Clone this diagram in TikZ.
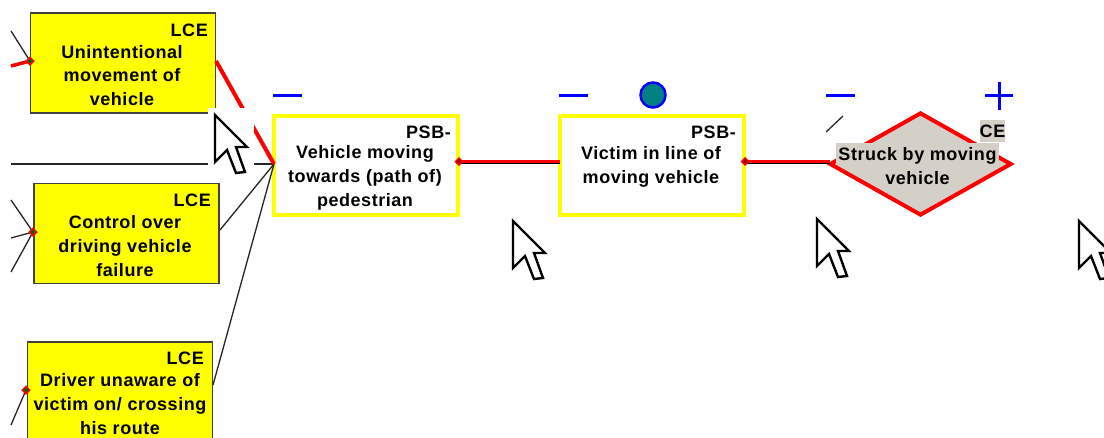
\documentclass[tikz,border=0pt]{standalone}
\usepackage{fontspec}
\setmainfont[LetterSpace=3]{Liberation Sans}
\usetikzlibrary{shapes.geometric,calc}
\definecolor{teal2}{RGB}{0,128,128}
\definecolor{ceg}{RGB}{212,208,200}
\definecolor{bl}{RGB}{0,0,255}
\definecolor{yel}{RGB}{255,255,0}
\definecolor{rd}{RGB}{255,0,0}
\tikzset{
 lce/.style={draw=black!75,fill=yel,line width=1.4pt,minimum width=185pt,minimum height=100pt,inner sep=0pt},
 psb/.style={draw=yel,fill=white,line width=4pt,minimum width=184pt,minimum height=99pt,inner sep=0pt},
 body/.style={font=\fontsize{18}{23.8}\selectfont\bfseries,align=center,inner sep=0pt,text=black},
 tag/.style={font=\fontsize{18}{20}\selectfont\bfseries,anchor=east,inner sep=0pt,text=black},
 thin line/.style={draw=black!85,line width=1.3pt},
 red line/.style={draw=rd,line width=4pt},
 joint/.style={diamond,draw=rd,fill=green!40!black,line width=1.5pt,minimum size=8pt,inner sep=0pt},
 redjoint/.style={diamond,draw=rd,fill=rd!70!black,line width=1pt,minimum size=8pt,inner sep=0pt},
 sign/.style={draw=bl,line width=3pt},
 cursor/.style={draw=black,fill=white,line width=2.4pt,line join=miter},
}
\newcommand{\mycursor}[2]{%
 \draw[cursor,shift={(#1,#2)}] (0,0) -- (0,47) -- (12,35) -- (21,58) -- (30,57) -- (21,32) -- (32,32) -- cycle;}
\begin{document}
\begin{tikzpicture}[x=1pt,y=-1pt]
\useasboundingbox (0,0) rectangle (1104,437);
\clip (0,0) rectangle (1104,437);
\fill[white] (0,0) rectangle (1104,437);
% free ends
\coordinate (a1) at (11,31); \coordinate (a2) at (11,66);
\coordinate (b1) at (11,200); \coordinate (b2) at (11,238); \coordinate (b3) at (11,272);
\coordinate (c1) at (11,425); \coordinate (h) at (11,164);
\coordinate (p1) at (274,164);
% boxes
\node[lce] (lce1) at (123,63) {};
\node[lce] (lce2) at (126.5,233.5) {};
\node[lce] (lce3) at (120,392) {};
\node[psb] (psb1) at (366,165) {};
\node[psb] (psb2) at (652,165) {};
\node[diamond,draw=rd,fill=ceg,line width=4pt,inner sep=0pt,aspect=1.8,minimum height=103pt,minimum width=182pt] (ce) at (920.5,164) {};
% connectors
\coordinate (j1) at (30,61); \coordinate (j2) at (33,232); \coordinate (j3) at (26,390);
\draw[thin line] (a1) -- (j1);
\draw[red line,line width=3.5pt] (a2) -- (j1);
\draw[thin line] (b1) -- (j2); \draw[thin line] (b2) -- (j2); \draw[thin line] (b3) -- (j2);
\draw[thin line] (c1) -- (j3);
\draw[thin line] (h) -- (p1);
\coordinate (o1) at (216,61); \coordinate (o2) at (220,230); \coordinate (o3) at (213,385);
\draw[red line] (o1) -- (p1);
\draw[thin line] (o2) -- (p1);
\draw[thin line] (o3) -- (p1);
\coordinate (s1) at (459,161.5); \coordinate (s2) at (560,161.5); \coordinate (s3) at (745,161.5); \coordinate (s4) at (830,161.5);
\draw[red line] (s1) -- (s2); \draw[red line] (s3) -- (s4);
\draw[draw=black,line width=1.3pt] ($(s1)+(0,2.2)$) -- ($(s2)+(0,2.2)$);
\draw[draw=black,line width=1.3pt] ($(s3)+(0,2.2)$) -- ($(s4)+(0,2.2)$);
\node[joint] (k1) at (j1) {};
\node[joint] (k2) at (j2) {};
\node[joint] (k3) at (j3) {};
\node[redjoint] (k4) at (s1) {};
\node[redjoint] (k5) at (s3) {};
% cursor patch
\fill[white] (208,108) rectangle (254,175);
\mycursor{215}{115}
\mycursor{513}{221}
\mycursor{817}{219}
\mycursor{1079}{221}
% labels
\node[tag] (t1) at (208,30) {LCE};
\node[body] (x1) at (122,75.5) {Unintentional\\movement of\\vehicle};
\node[tag] (t2) at (211,200) {LCE};
\node[body] (x2) at (125,246) {Control over\\driving vehicle\\failure};
\node[tag] (t3) at (204,358) {LCE};
\node[body] (x3) at (120,404) {Driver unaware of\\victim on/ crossing\\his route};
\node[tag] (t4) at (451,132) {PSB-};
\node[body] (x4) at (365,178) {Vehicle moving\\towards (path of)\\pedestrian};
\node[tag] (t5) at (736,132) {PSB-};
\node[body] (x5) at (651,166.5) {Victim in line of\\moving vehicle};
% CE labels
\node[fill=ceg,inner sep=0pt,minimum width=24pt,minimum height=22pt,font=\fontsize{18}{20}\selectfont\bfseries,text=black] (t6) at (992.5,131) {CE};
\node[fill=ceg,inner sep=0pt,minimum width=163pt,minimum height=21pt] (bar) at (917.5,153) {};
\node[body] (x6) at (917.5,166) {Struck by moving\\vehicle};
% signs
\draw[sign] (273,95) -- (302,95);
\draw[sign] (559,95) -- (588,95);
\draw[sign] (826,95) -- (855,95);
\draw[sign] (985,95) -- (1013,95);
\draw[sign] (999,82) -- (999,110);
\node[circle,draw=bl,fill=teal2,line width=2.5pt,minimum size=25pt,inner sep=0pt] (dot) at (653,95) {};
\coordinate (sl1) at (826,132); \coordinate (sl2) at (843,116);
\draw[thin line] (sl1) -- (sl2);
\end{tikzpicture}
\end{document}
